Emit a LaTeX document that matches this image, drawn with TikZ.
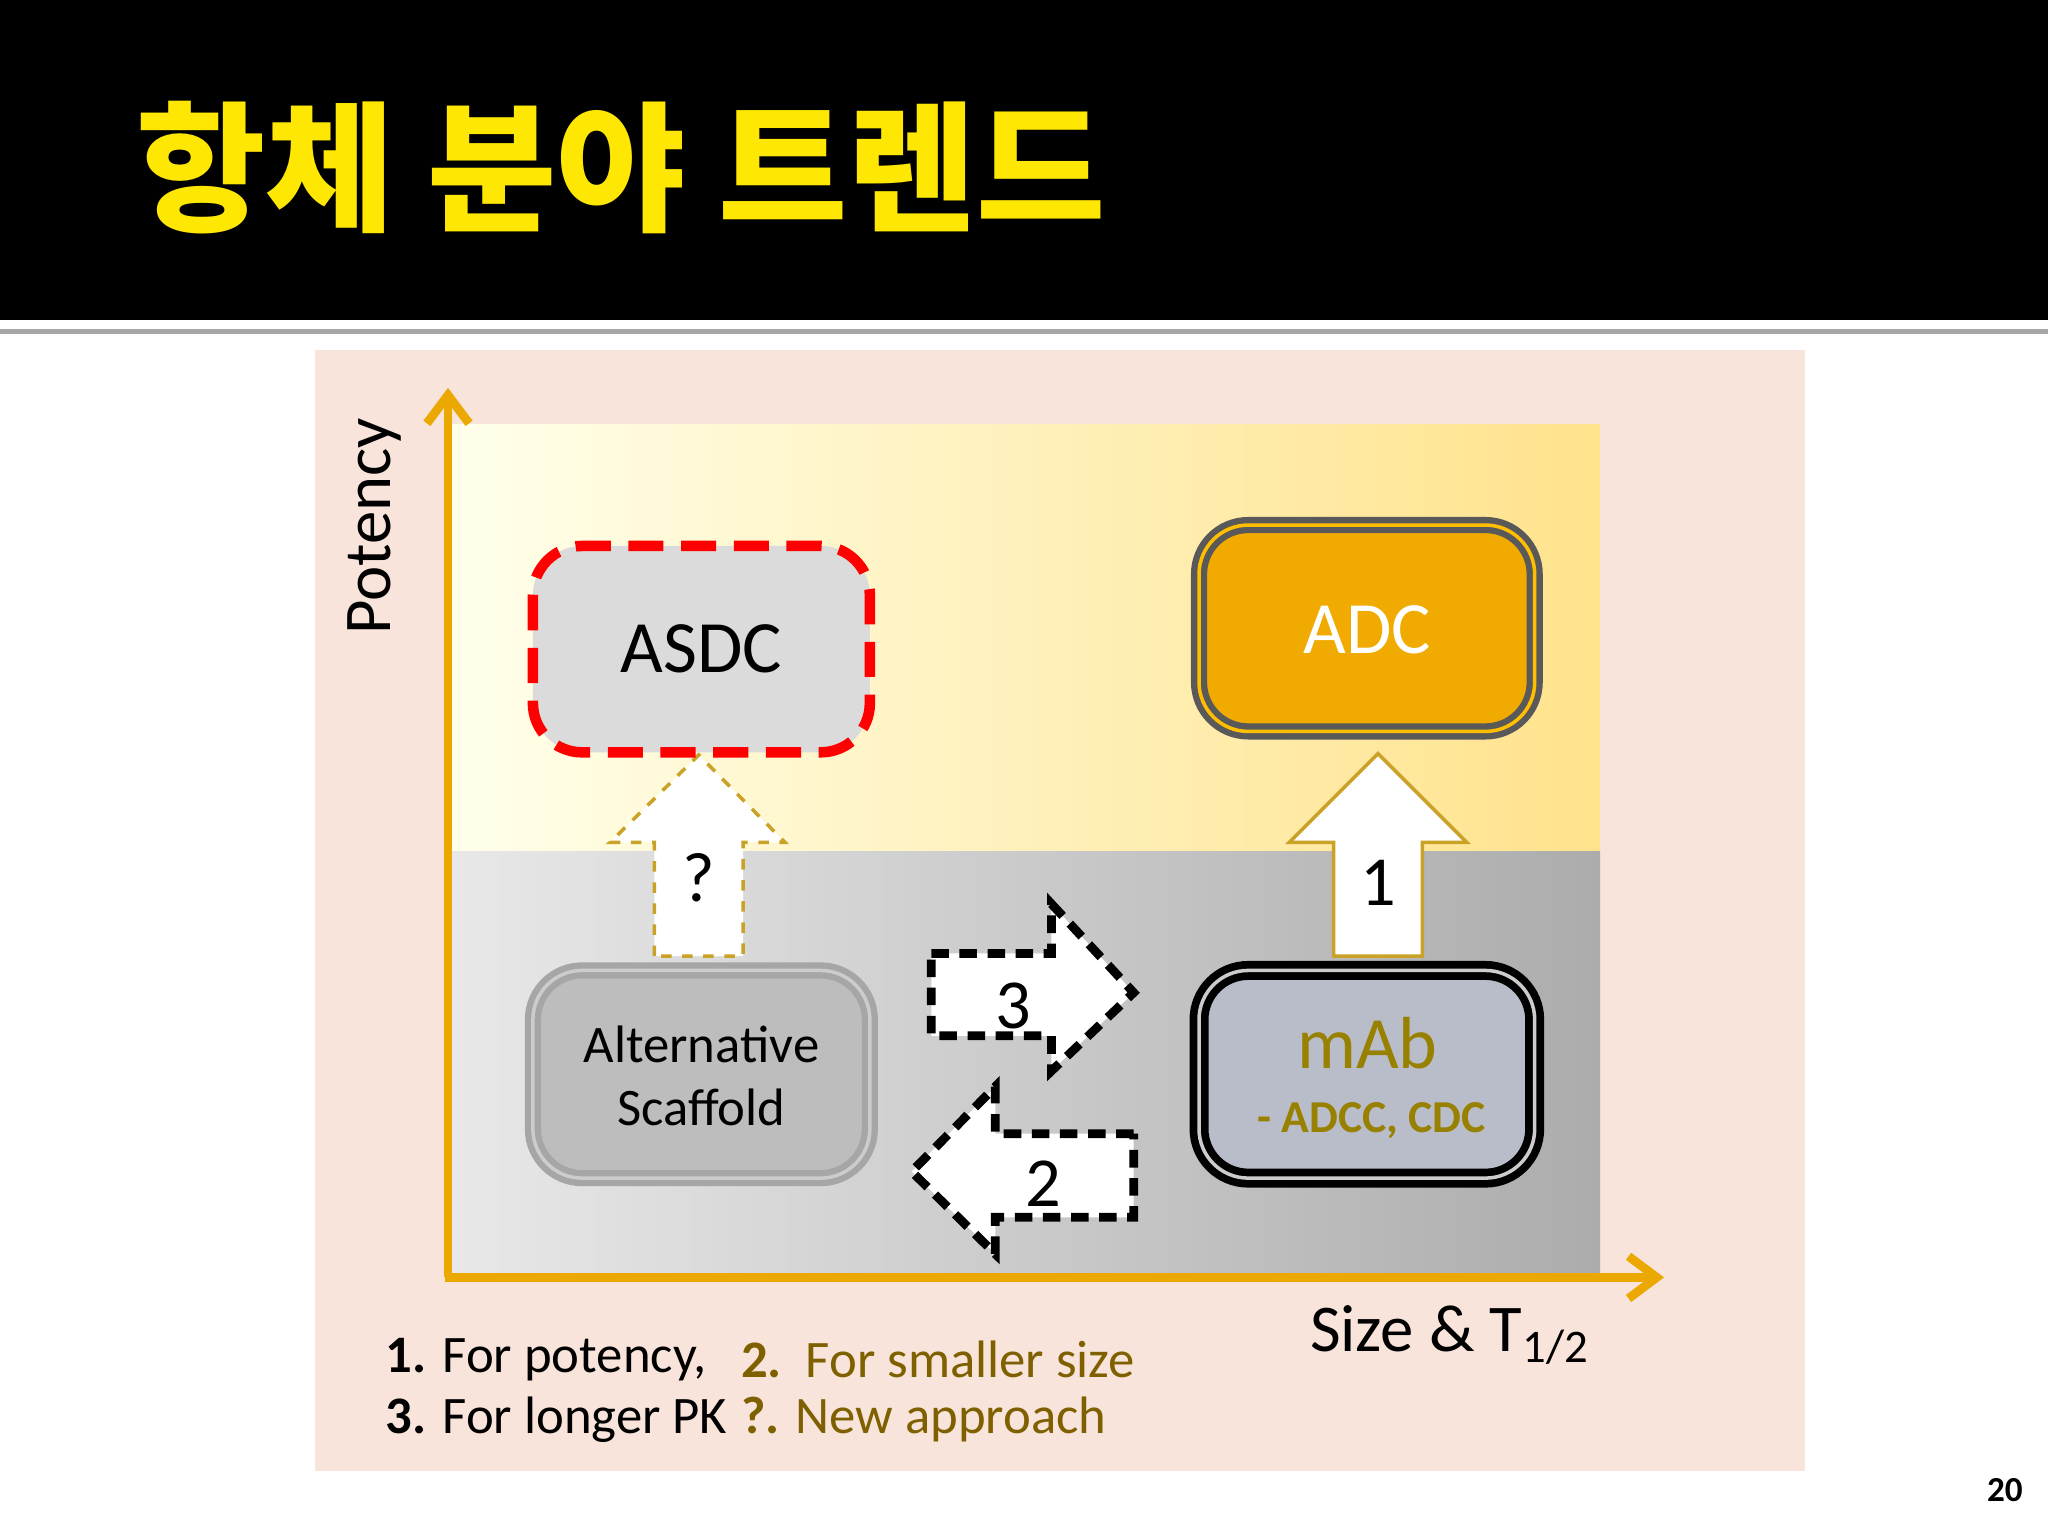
\documentclass[tikz,border=0pt]{standalone}
\usepackage{fontspec}
\setmainfont{Carlito}
\newfontfamily\kr{Noto Sans CJK KR}
\usetikzlibrary{arrows.meta}
\definecolor{pinkbg}{HTML}{F8E4DA}
\definecolor{axis}{HTML}{EBA800}
\definecolor{olive}{HTML}{7F6000}
\definecolor{gold}{HTML}{C9A227}
\tikzset{
  card/.style={rounded corners=14pt,line width=2.5pt},
  fat/.style={line width=1pt,fill=white,line join=miter},
  lbl/.style={font=\fontsize{21}{24}\selectfont},
}
\begin{document}
\begin{tikzpicture}[x=0.013061cm,y=-0.013061cm]
\useasboundingbox (0,0) rectangle (1568,1176);
\fill[white] (0,0) rectangle (1568,1176);
\fill[black] (0,0) rectangle (1568,245);
\draw[gray!70,line width=1.5pt] (0,254) -- (1568,254);
\node[anchor=west,text=yellow!90!orange,font=\kr\bfseries\fontsize{40}{44}\selectfont] (title) at (95,128) {항체 분야 트렌드};
\fill[pinkbg] (241,268) rectangle (1382,1126);
\shade[left color=yellow!8!white,right color=yellow!50!orange!45!white] (345,325) rectangle (1225,652);
\shade[left color=gray!18,right color=gray!65] (345,652) rectangle (1225,975);
\draw[axis,line width=2.5pt,-{Straight Barb[length=8pt,width=12pt]}] (343,978) -- (343,297);
\draw[axis,line width=2.5pt,-{Straight Barb[length=8pt,width=12pt]}] (341,978) -- (1274,978);
\node[rotate=90,font=\fontsize{19}{22}\selectfont] (pot) at (287,403) {Potency};
\node[font=\fontsize{19}{22}\selectfont] (size) at (1110,1022) {Size \& T\textsubscript{1/2}};
% arrows
\draw[fat,draw=gold,dashed] (501,732) -- (501,645) -- (467,645) -- (535,578) -- (601,645) -- (569,645) -- (569,732) -- cycle;
\node[font=\fontsize{20}{22}\selectfont] (q) at (535,672) {?};
\draw[fat,draw=gold] (1021,732) -- (1021,645) -- (987,645) -- (1055,577) -- (1123,645) -- (1089,645) -- (1089,732) -- cycle;
\node[font=\fontsize{20}{22}\selectfont] (one) at (1055,676) {1};
\draw[fat,line width=2.5pt,dashed,dash pattern=on 5pt off 3pt] (713,730) -- (805,730) -- (805,692) -- (868,760) -- (805,820) -- (805,793) -- (713,793) -- cycle;
\node[font=\fontsize{20}{22}\selectfont] (three) at (776,770) {3};
\draw[fat,line width=2.5pt,dashed,dash pattern=on 5pt off 3pt] (868,868) -- (762,868) -- (762,832) -- (698,897) -- (762,960) -- (762,932) -- (868,932) -- cycle;
\node[font=\fontsize{20}{22}\selectfont] (two) at (799,906) {2};
% boxes
\draw[card,fill=gray!28,draw=red,dashed,line width=3pt,dash pattern=on 10pt off 5pt] (408,418) rectangle (666,576);
\node[lbl] (asdc) at (537,497) {ASDC};
\draw[card,fill=orange!40!yellow!90!black,fill={rgb,255:red,240;green,170;blue,0},draw=black!65,double=orange!50!yellow,double distance=1pt,line width=1.8pt] (918,402) rectangle (1175,560);
\node[lbl,text=white] (adc) at (1047,482) {ADC};
\draw[card,fill=gray!52,draw=gray!70,double=gray!40,double distance=1pt,line width=1.8pt] (408,743) rectangle (666,902);
\node[align=center,font=\fontsize{15}{18}\selectfont] (alt) at (537,824) {Alternative\\Scaffold};
\draw[card,fill={rgb,255:red,185;green,189;blue,202},draw=black,double=gray!40,double distance=1pt,line width=2.2pt] (918,743) rectangle (1175,902);
\node[lbl,text=olive!80!yellow] (mab) at (1047,799) {mAb};
\node[font=\bfseries\fontsize{13}{16}\selectfont,text=olive!80!yellow] (adcc) at (1050,858) {- ADCC, CDC};
% legend
\node[anchor=west,font=\fontsize{15}{18}\selectfont] (l1) at (286,1041) {\textbf{1.} For potency,};
\node[anchor=west,font=\fontsize{15}{18}\selectfont,text=olive] (l2) at (558,1041) {\textbf{2.}\ \ For smaller size};
\node[anchor=west,font=\fontsize{15}{18}\selectfont] (l3) at (286,1087) {\textbf{3.} For longer PK};
\node[anchor=west,font=\fontsize{15}{18}\selectfont,text=olive] (l4) at (558,1087) {\textbf{?.} New approach};
\node[font=\bfseries\fontsize{10}{12}\selectfont] (pg) at (1535,1141) {20};
\end{tikzpicture}
\end{document}
